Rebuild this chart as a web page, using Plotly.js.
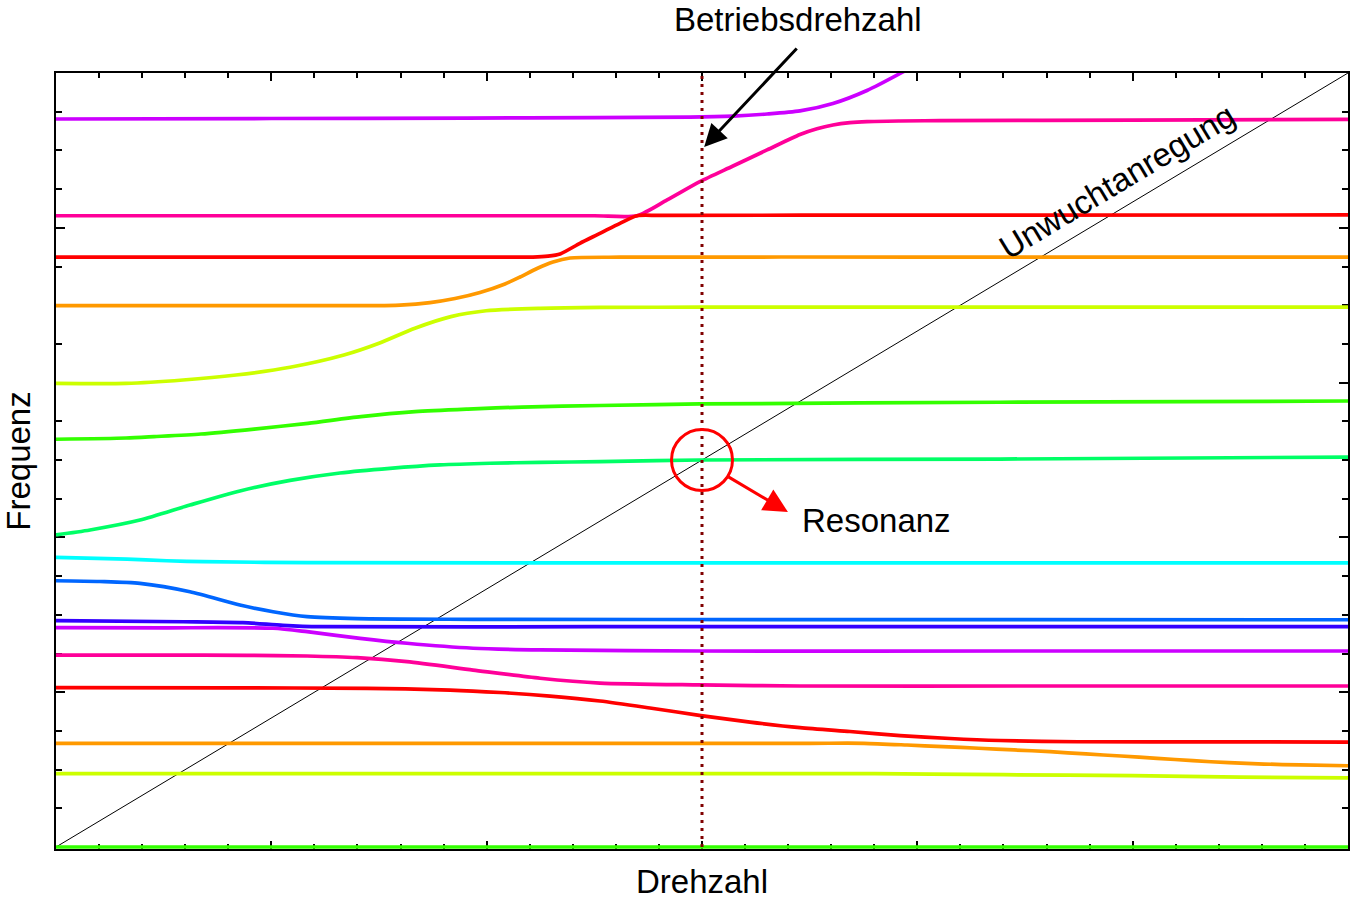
<!DOCTYPE html>
<html>
<head>
<meta charset="utf-8">
<script src="https://cdn.plot.ly/plotly-3.0.1.min.js"></script>
<style>html,body{margin:0;padding:0;background:#fff;}#chart{width:1358px;height:901px;}</style>
</head>
<body>
<div id="chart"></div>
<script>
// ---- Data (Campbell diagram: eigenfrequencies vs. speed) ----
const c0x = [0, 6];
const c0y = [0, 0];
const c1x = [0, 2.0, 3.8, 4.4, 5.0, 5.5, 6];
const c1y = [0.4735, 0.4735, 0.4735, 0.467, 0.461, 0.452, 0.446];
const c2x = [0, 2.0, 3.5, 3.752, 3.952, 4.119, 4.285, 4.449, 4.616, 4.783, 4.946, 5.113, 5.28, 5.447, 5.61, 5.777, 6];
const c2y = [0.670, 0.670, 0.670, 0.670, 0.659, 0.648, 0.638, 0.627, 0.616, 0.601, 0.588, 0.573, 0.5575, 0.5446, 0.536, 0.530, 0.525];
const c3x = [0, 0.8, 1.444, 1.830, 2.062, 2.294, 2.526, 2.758, 2.995, 3.223, 3.455, 3.687, 3.920, 4.152, 4.384, 4.746, 5.4, 6];
const c3y = [1.029, 1.028, 1.025, 1.014, 0.998, 0.975, 0.943, 0.898, 0.849, 0.807, 0.771, 0.746, 0.720, 0.701, 0.688, 0.680, 0.679, 0.678];
const c4x = [0, 0.5, 0.887, 1.166, 1.398, 1.630, 1.937, 2.248, 2.526, 2.990, 3.455, 4.5, 6];
const c4y = [1.240, 1.240, 1.238, 1.234, 1.223, 1.197, 1.143, 1.090, 1.059, 1.047, 1.040, 1.040, 1.040];
const c5x = [0, 0.5, 1.008, 1.166, 1.412, 1.630, 1.937, 2.248, 2.990, 4.5, 6];
const c5y = [1.417, 1.416, 1.413, 1.391, 1.348, 1.316, 1.284, 1.273, 1.266, 1.266, 1.266];
const c6x = [0, 0.590, 0.868, 1.054, 1.226, 2.5, 6];
const c6y = [1.462, 1.455, 1.449, 1.432, 1.423, 1.423, 1.423];
const c7x = [0, 0.204, 0.390, 0.622, 0.854, 1.008, 1.166, 1.398, 1.937, 3.5, 6];
const c7y = [1.720, 1.715, 1.703, 1.649, 1.563, 1.520, 1.488, 1.475, 1.471, 1.469, 1.468];
const c8x = [0, 0.330, 0.515, 0.683, 1.166, 3.0, 6];
const c8y = [1.871, 1.860, 1.849, 1.843, 1.837, 1.836, 1.835];
const c9x = [0, 0.158, 0.390, 0.622, 0.854, 1.087, 1.319, 1.551, 1.783, 2.016, 2.248, 2.526, 2.990, 4.384, 6];
const c9y = [2.016, 2.048, 2.112, 2.209, 2.300, 2.368, 2.416, 2.446, 2.468, 2.479, 2.485, 2.489, 2.500, 2.506, 2.519];
const c10x = [0, 0.325, 0.455, 0.673, 0.920, 1.170, 1.416, 1.667, 1.913, 2.164, 2.526, 2.990, 4.384, 6];
const c10y = [2.634, 2.642, 2.651, 2.668, 2.700, 2.737, 2.780, 2.812, 2.829, 2.842, 2.852, 2.862, 2.873, 2.881];
const c11x = [0, 0.325, 0.590, 0.836, 1.087, 1.337, 1.500, 1.667, 1.834, 1.997, 2.248, 2.526, 2.990, 4.5, 6];
const c11y = [2.995, 2.995, 3.017, 3.049, 3.099, 3.178, 3.254, 3.351, 3.426, 3.464, 3.480, 3.486, 3.487, 3.488, 3.488];
const c12x = [0, 0.7, 1.2, 1.454, 1.598, 1.737, 1.853, 1.969, 2.085, 2.155, 2.234, 2.308, 2.387, 2.619, 4.0, 6];
const c12y = [3.497, 3.497, 3.497, 3.497, 3.501, 3.517, 3.543, 3.582, 3.637, 3.682, 3.737, 3.779, 3.805, 3.810, 3.811, 3.811];
const c13x = [0, 1.0, 2.0, 2.215, 2.285, 2.341, 2.433, 2.526, 2.619, 2.698, 2.805, 4.0, 6];
const c13y = [3.811, 3.811, 3.811, 3.811, 3.817, 3.831, 3.900, 3.964, 4.029, 4.078, 4.080, 4.082, 4.083];
const c14x = [0, 1.0, 2.0, 2.5, 2.698, 2.838, 2.990, 3.144, 3.302, 3.455, 3.534, 3.608, 3.687, 3.766, 3.920, 4.105, 5.0, 6];
const c14y = [4.078, 4.078, 4.078, 4.078, 4.078, 4.180, 4.298, 4.399, 4.503, 4.603, 4.640, 4.664, 4.679, 4.686, 4.690, 4.692, 4.696, 4.700];
const c15x = [0, 1.0, 1.909, 2.5, 2.944, 3.144, 3.302, 3.455, 3.608, 3.766, 3.920, 4.152, 4.384];
const c15y = [4.703, 4.706, 4.709, 4.712, 4.715, 4.722, 4.735, 4.755, 4.803, 4.887, 4.997, 5.181, 5.375];

const modeColors = ['#33ff00', '#ccff00', '#ff9900', '#ff0000', '#ff0099', '#cc00ff', '#3300ff', '#0066ff',
                    '#00ffff', '#00ff66', '#33ff00', '#ccff00', '#ff9900', '#ff0000', '#ff0099', '#cc00ff'];
const modeX = [c0x, c1x, c2x, c3x, c4x, c5x, c6x, c7x, c8x, c9x, c10x, c11x, c12x, c13x, c14x, c15x];
const modeY = [c0y, c1y, c2y, c3y, c4y, c5y, c6y, c7y, c8y, c9y, c10y, c11y, c12y, c13y, c14y, c15y];

// excitation line (unbalance: frequency proportional to speed)
const excX = [0, 6];
const excY = [0, 5];
// operating speed
const opSpeed = 3;
const opY = [0, 5];
const resonanceY = 2.5;

const labelTop = 'Betriebsdrehzahl';
const labelDiag = 'Unwuchtanregung';
const labelRes = 'Resonanz';
const xTitle = 'Drehzahl';
const yTitle = 'Frequenz';

const FONT = '"Liberation Sans", Arial, sans-serif';
const FS = 33;

const traces = [];
traces.push({x: excX, y: excY, mode: 'lines', line: {color: '#000', width: 1}, hoverinfo: 'skip'});
for (let i = modeX.length - 1; i >= 0; i--) {
  traces.push({x: modeX[i], y: modeY[i], mode: 'lines',
    line: {color: modeColors[i], width: 3.7, shape: 'spline', smoothing: 0.7}, hoverinfo: 'skip'});
}
traces.push({x: [opSpeed, opSpeed], y: opY, mode: 'lines',
  line: {color: '#800000', width: 3, dash: '3px,5px'}, hoverinfo: 'skip'});

const axisCommon = {
  showline: true, linecolor: '#000', linewidth: 2, mirror: 'allticks',
  ticks: 'inside', tickcolor: '#000', tickwidth: 2,
  showticklabels: false, showgrid: false, zeroline: false, automargin: false,
  layer: 'below traces', fixedrange: true
};

const layout = {
  width: 1358, height: 901,
  margin: {l: 56, r: 10, t: 73, b: 52, pad: 0},
  paper_bgcolor: '#fff', plot_bgcolor: '#fff',
  showlegend: false,
  font: {family: FONT, color: '#000', size: FS},
  xaxis: Object.assign({}, axisCommon, {
    range: [0, 6], tick0: 0, dtick: 1, ticklen: 8,
    minor: {ticks: 'inside', dtick: 0.2, ticklen: 5, tickwidth: 2, tickcolor: '#000', showgrid: false},
    title: {text: xTitle, font: {family: FONT, size: FS, color: '#000'}, standoff: 20}
  }),
  yaxis: Object.assign({}, axisCommon, {
    range: [-0.01292, 5], tick0: 0, dtick: 1, ticklen: 9,
    minor: {ticks: 'inside', dtick: 0.25, ticklen: 6, tickwidth: 2, tickcolor: '#000', showgrid: false},
    title: {text: yTitle, font: {family: FONT, size: FS, color: '#000'}, standoff: 14}
  }),
  shapes: [{
    type: 'circle', xref: 'x', yref: 'y', xsizemode: 'pixel', ysizemode: 'pixel',
    xanchor: opSpeed, yanchor: resonanceY, x0: -30.5, x1: 30.5, y0: -30.5, y1: 30.5,
    line: {color: '#ff0000', width: 3}
  }],
  annotations: [
    {xref: 'paper', yref: 'paper', x: 0.574, y: 1.0685, xanchor: 'center', yanchor: 'middle',
     text: labelTop, showarrow: false, font: {family: FONT, size: FS, color: '#000'}},
    {xref: 'x', yref: 'y', x: opSpeed + 0.01, y: 4.522, ax: 94, ay: -100, text: '', showarrow: true,
     arrowhead: 2, arrowsize: 1.5, arrowwidth: 3, arrowcolor: '#000'},
    {xref: 'x', yref: 'y', x: 3.399, y: 2.164, ax: -61, ay: -36, text: '', showarrow: true,
     arrowhead: 2, arrowsize: 1.6, arrowwidth: 3, arrowcolor: '#ff0000'},
    {xref: 'paper', yref: 'paper', x: (876 - 56) / 1292, y: (847 - 519) / 774, xanchor: 'center', yanchor: 'middle',
     text: labelRes, showarrow: false, font: {family: FONT, size: FS, color: '#000'}},
    {xref: 'paper', yref: 'paper', x: 0.821, y: 0.8605, xanchor: 'center', yanchor: 'middle',
     text: labelDiag, showarrow: false, textangle: -31, font: {family: FONT, size: FS, color: '#000'}}
  ]
};

Plotly.newPlot('chart', traces, layout, {staticPlot: true, displayModeBar: false});
</script>
</body>
</html>
